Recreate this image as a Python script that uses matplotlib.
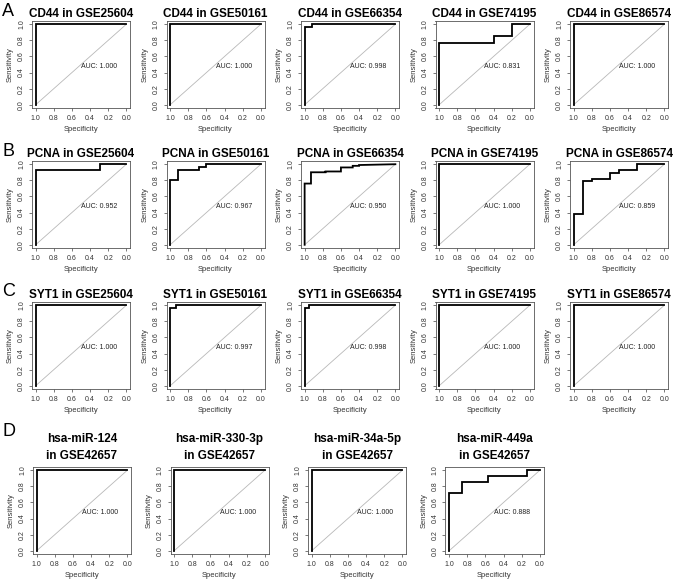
import matplotlib
matplotlib.use("Agg")
import matplotlib.pyplot as plt

plt.rcParams["font.family"] = ["Liberation Sans", "DejaVu Sans"]

# ROC vertices: (specificity, sensitivity)
perfect_spec = [1.0, 1.0, 0.0]
perfect_sens = [0.0, 1.0, 1.0]

cd44_66354_spec = [1.0, 1.0, 0.92, 0.92, 0.0]
cd44_66354_sens = [0.0, 0.96, 0.96, 1.0, 1.0]

cd44_74195_spec = [1.0, 1.0, 0.4, 0.4, 0.2, 0.2, 0.0]
cd44_74195_sens = [0.0, 0.77, 0.77, 0.85, 0.85, 1.0, 1.0]

pcna_25604_spec = [1.0, 1.0, 0.29, 0.29, 0.0]
pcna_25604_sens = [0.0, 0.93, 0.93, 1.0, 1.0]

pcna_50161_spec = [1.0, 1.0, 0.91, 0.91, 0.68, 0.68, 0.60, 0.60, 0.0]
pcna_50161_sens = [0.0, 0.80, 0.80, 0.93, 0.93, 0.96, 0.96, 1.0, 1.0]

pcna_66354_spec = [1.0, 1.0, 0.93, 0.93, 0.77, 0.77, 0.60, 0.60, 0.47, 0.47, 0.40, 0.40, 0.0]
pcna_66354_sens = [0.0, 0.76, 0.76, 0.90, 0.90, 0.91, 0.91, 0.96, 0.96, 0.98, 0.98, 0.99, 1.0]

pcna_86574_spec = [1.0, 1.0, 0.9, 0.9, 0.8, 0.8, 0.6, 0.6, 0.5, 0.5, 0.3, 0.3, 0.0]
pcna_86574_sens = [0.0, 0.38, 0.38, 0.79, 0.79, 0.82, 0.82, 0.89, 0.89, 0.93, 0.93, 1.0, 1.0]

syt1_50161_spec = [1.0, 1.0, 0.93, 0.93, 0.0]
syt1_50161_sens = [0.0, 0.96, 0.96, 1.0, 1.0]

syt1_66354_spec = [1.0, 1.0, 0.95, 0.95, 0.0]
syt1_66354_sens = [0.0, 0.96, 0.96, 1.0, 1.0]

mir449a_spec = [1.0, 1.0, 0.857, 0.857, 0.571, 0.571, 0.143, 0.143, 0.0]
mir449a_sens = [0.0, 0.714, 0.714, 0.857, 0.857, 0.929, 0.929, 1.0, 1.0]

datasets = ["GSE25604", "GSE50161", "GSE66354", "GSE74195", "GSE86574"]
row_a_auc = [1.000, 1.000, 0.998, 0.831, 1.000]
row_b_auc = [0.952, 0.967, 0.950, 1.000, 0.859]
row_c_auc = [1.000, 0.997, 0.998, 1.000, 1.000]
mirnas = ["hsa-miR-124", "hsa-miR-330-3p", "hsa-miR-34a-5p", "hsa-miR-449a"]
row_d_auc = [1.000, 1.000, 1.000, 0.888]

rows = [
    ("A", "CD44", row_a_auc,
     [(perfect_spec, perfect_sens), (perfect_spec, perfect_sens),
      (cd44_66354_spec, cd44_66354_sens), (cd44_74195_spec, cd44_74195_sens),
      (perfect_spec, perfect_sens)]),
    ("B", "PCNA", row_b_auc,
     [(pcna_25604_spec, pcna_25604_sens), (pcna_50161_spec, pcna_50161_sens),
      (pcna_66354_spec, pcna_66354_sens), (perfect_spec, perfect_sens),
      (pcna_86574_spec, pcna_86574_sens)]),
    ("C", "SYT1", row_c_auc,
     [(perfect_spec, perfect_sens), (syt1_50161_spec, syt1_50161_sens),
      (syt1_66354_spec, syt1_66354_sens), (perfect_spec, perfect_sens),
      (perfect_spec, perfect_sens)]),
]
row_d_curves = [(perfect_spec, perfect_sens), (perfect_spec, perfect_sens),
                (perfect_spec, perfect_sens), (mir449a_spec, mir449a_sens)]

W, H = 677, 585
fig = plt.figure(figsize=(W / 100, H / 100), dpi=100)


def add_ax(left, top, w=98, h=87):
    return fig.add_axes([left / W, 1 - (top + h) / H, w / W, h / H])


def draw_roc(ax, spec, sens, auc, title, pad=3):
    ax.plot([1, 0], [0, 1], color="#b8b8b8", lw=0.6)
    ax.plot(spec, sens, color="black", lw=1.3, solid_joinstyle="miter")
    ax.set_xlim(1.04, -0.04)
    ax.set_ylim(-0.04, 1.04)
    ticks = [0.0, 0.2, 0.4, 0.6, 0.8, 1.0]
    ax.set_xticks(ticks)
    ax.set_yticks(ticks)
    ax.set_xticklabels([f"{t:.1f}" for t in ticks])
    ax.set_yticklabels([f"{t:.1f}" for t in ticks], rotation=90, va="center")
    ax.tick_params(labelsize=5, length=2.5, width=0.5, pad=2.5,
                   colors="#444444", labelcolor="#333333")
    for s in ax.spines.values():
        s.set_linewidth(0.6)
        s.set_color("#555555")
    ax.set_xlabel("Specificity", fontsize=5.5, color="#333333", labelpad=3)
    ax.set_ylabel("Sensitivity", fontsize=5.5, color="#333333", labelpad=3)
    ax.text(0.5, 0.48, f"AUC: {auc:.3f}", ha="left", va="center",
            fontsize=5, color="#222222")
    ax.set_title(title, fontsize=8.5, fontweight="bold", pad=pad,
                 linespacing=1.5)


row_tops = [21, 161, 302]
letter_y = [11, 151, 292]
for r, (letter, gene, aucs, curves) in enumerate(rows):
    for c in range(5):
        ax = add_ax(32 + 134.5 * c, row_tops[r])
        spec, sens = curves[c]
        draw_roc(ax, spec, sens, aucs[c], f"{gene} in {datasets[c]}")
    fig.text(2 / W, 1 - letter_y[r] / H, letter, fontsize=13,
             ha="left", va="center")

for c in range(4):
    ax = add_ax(33 + 137.5 * c, 467)
    spec, sens = row_d_curves[c]
    draw_roc(ax, spec, sens, row_d_auc[c], f"{mirnas[c]}\nin GSE42657", pad=6)
fig.text(2 / W, 1 - 432 / H, "D", fontsize=13, ha="left", va="center")

fig.savefig("out.png", dpi=100)
